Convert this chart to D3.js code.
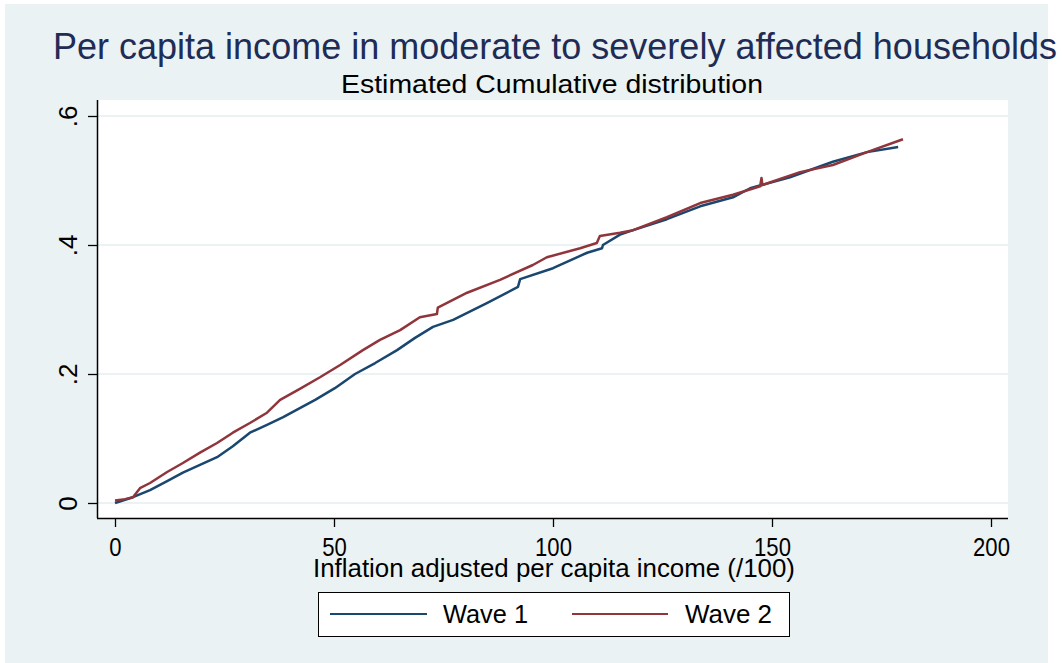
<!DOCTYPE html>
<html>
<head>
<meta charset="utf-8">
<script src="https://cdn.jsdelivr.net/npm/d3@7"></script>
<style>
  body { margin: 0; background: #fff; }
  text { font-family: "Liberation Sans", Arial, sans-serif; }
</style>
</head>
<body>
<div class="chart"></div>
<script>
/* global d3 */
(function () {
    'use strict';

    // estimated cumulative distribution
    var wave1X = [0, 4.1, 8.0, 11.9, 15.5, 19.4, 23.3, 26.9, 30.8, 34.7, 38.4, 42.2, 45.7, 50.2, 54.8,
        59.4, 64.4, 68.5, 72.6, 77.2, 84.9, 92.0, 92.5, 100.0, 107.8, 111.2, 111.4, 115.3, 118.3,
        126.0, 133.6, 141.1, 145.0, 154.1, 163.9, 171.7, 178.8];
    var wave1Y = [0.000, 0.009, 0.020, 0.034, 0.047, 0.059, 0.071, 0.088, 0.109, 0.121, 0.133, 0.147,
        0.160, 0.178, 0.200, 0.217, 0.237, 0.256, 0.273, 0.284, 0.310, 0.335, 0.347, 0.364, 0.388,
        0.395, 0.400, 0.416, 0.423, 0.440, 0.460, 0.474, 0.488, 0.505, 0.529, 0.544, 0.552];

    var wave2X = [0, 2.3, 4.1, 5.7, 8.0, 11.9, 15.5, 19.4, 23.3, 26.9, 30.8, 34.7, 37.7, 42.2, 46.8,
        51.4, 56.6, 60.5, 65.1, 69.6, 73.5, 73.7, 80.4, 87.9, 95.4, 98.6, 106.2, 110.0, 110.7, 115.3,
        118.3, 126.0, 133.6, 141.1, 147.3, 147.6, 147.8, 156.4, 163.9, 171.7, 179.9];
    var wave2Y = [0.004, 0.006, 0.009, 0.023, 0.031, 0.048, 0.062, 0.078, 0.093, 0.109, 0.124, 0.140,
        0.160, 0.177, 0.195, 0.214, 0.237, 0.253, 0.268, 0.288, 0.293, 0.303, 0.326, 0.346, 0.369,
        0.381, 0.395, 0.403, 0.414, 0.419, 0.423, 0.443, 0.465, 0.478, 0.491, 0.504, 0.493, 0.513,
        0.524, 0.544, 0.564];

    var xTicks = [0, 50, 100, 150, 200];
    var yTicks = [0, 0.2, 0.4, 0.6];
    var yTickLabels = ['0', '.2', '.4', '.6'];
    var seriesNames = ['Wave 1', 'Wave 2'];
    var seriesColors = ['#1A476F', '#90353B'];

    var width = 1062, height = 663;
    var svg = d3.select('.chart')
        .append('svg')
            .attr('width', width)
            .attr('height', height);

    // outer graph region
    svg.append('rect')
        .attr('x', 5).attr('y', 4)
        .attr('width', 1043).attr('height', 659)
        .attr('fill', '#EAF2F3');

    var plot = { left: 97, right: 1008, top: 100, bottom: 518 };

    svg.append('rect')
        .attr('x', plot.left).attr('y', plot.top)
        .attr('width', plot.right - plot.left)
        .attr('height', plot.bottom - plot.top)
        .attr('fill', '#fff');

    var x = d3.scaleLinear().domain([0, 200]).range([115, 991]);
    var y = d3.scaleLinear().domain([0, 0.6]).range([503, 116]);

    // horizontal grid
    svg.append('g').selectAll('line')
        .data(yTicks)
        .enter().append('line')
            .attr('x1', plot.left).attr('x2', plot.right)
            .attr('y1', function (d) { return y(d); })
            .attr('y2', function (d) { return y(d); })
            .attr('stroke', '#EAF2F3')
            .attr('stroke-width', 2);

    // squeeze text horizontally like the original export
    function squeeze(sel, f) {
        sel.each(function () {
            var w = this.getComputedTextLength();
            d3.select(this)
                .attr('textLength', w * f)
                .attr('lengthAdjust', 'spacingAndGlyphs');
        });
    }

    // x axis
    var xAxis = svg.append('g')
        .attr('transform', 'translate(0,' + plot.bottom + ')')
        .call(d3.axisBottom(x).tickValues(xTicks).tickSize(9).tickPadding(11)
            .tickSizeOuter(0).tickFormat(d3.format('d')));
    xAxis.select('.domain').attr('d', 'M' + plot.left + ',0.5H' + plot.right)
        .attr('stroke', '#000').attr('stroke-width', 1.5);
    xAxis.selectAll('.tick line').attr('stroke', '#000').attr('stroke-width', 1.3);
    xAxis.selectAll('.tick text')
        .attr('font-size', 26)
        .attr('font-family', '"Liberation Sans", Arial, sans-serif')
        .attr('fill', '#000')
        .call(squeeze, 0.85);

    // y axis
    var yAxis = svg.append('g')
        .attr('transform', 'translate(' + plot.left + ',0)')
        .call(d3.axisLeft(y).tickValues(yTicks).tickSize(9).tickSizeOuter(0)
            .tickFormat(function (d, i) { return yTickLabels[i]; }));
    yAxis.select('.domain').attr('d', 'M0.5,' + plot.top + 'V' + plot.bottom)
        .attr('stroke', '#000').attr('stroke-width', 1.5);
    yAxis.selectAll('.tick line').attr('stroke', '#000').attr('stroke-width', 1.3);
    yAxis.selectAll('.tick text')
        .attr('font-size', 26)
        .attr('font-family', '"Liberation Sans", Arial, sans-serif')
        .attr('fill', '#000')
        .attr('x', null).attr('dy', null)
        .attr('text-anchor', 'middle')
        .attr('transform', 'translate(-20,0) rotate(-90)');

    // curves
    var line = d3.line()
        .x(function (d) { return x(d[0]); })
        .y(function (d) { return y(d[1]); });

    var series = [d3.zip(wave1X, wave1Y), d3.zip(wave2X, wave2Y)];
    svg.append('g').selectAll('path')
        .data(series)
        .enter().append('path')
            .attr('d', line)
            .attr('fill', 'none')
            .attr('stroke', function (d, i) { return seriesColors[i]; })
            .attr('stroke-width', 2.5)
            .attr('stroke-linejoin', 'round');

    // titles
    function addText(txt, cx, by, size, len, color) {
        return svg.append('text')
            .attr('x', cx).attr('y', by)
            .attr('text-anchor', 'middle')
            .attr('font-size', size)
            .attr('fill', color)
            .attr('textLength', len)
            .attr('lengthAdjust', 'spacingAndGlyphs')
            .text(txt);
    }
    addText('Per capita income in moderate to severely affected households', 555, 59, 37, 1004, '#1E2C56');
    addText('Estimated Cumulative distribution', 552, 93, 26, 422, '#000');
    addText('Inflation adjusted per capita income (/100)', 554, 577, 26, 482, '#000');

    // legend
    var legend = svg.append('g');
    legend.append('rect')
        .attr('x', 318.5).attr('y', 592.5)
        .attr('width', 471).attr('height', 44)
        .attr('fill', '#fff')
        .attr('stroke', '#000')
        .attr('stroke-width', 1);
    var legendItems = [
        { x1: 330, x2: 427, tx: 443, tw: 85 },
        { x1: 572, x2: 668, tx: 685, tw: 87 }
    ];
    legendItems.forEach(function (d, i) {
        legend.append('line')
            .attr('x1', d.x1).attr('x2', d.x2)
            .attr('y1', 614).attr('y2', 614)
            .attr('stroke', seriesColors[i])
            .attr('stroke-width', 2.2);
        legend.append('text')
            .attr('x', d.tx).attr('y', 623)
            .attr('font-size', 25)
            .attr('fill', '#000')
            .attr('textLength', d.tw)
            .attr('lengthAdjust', 'spacingAndGlyphs')
            .text(seriesNames[i]);
    });
})();
</script>
</body>
</html>
